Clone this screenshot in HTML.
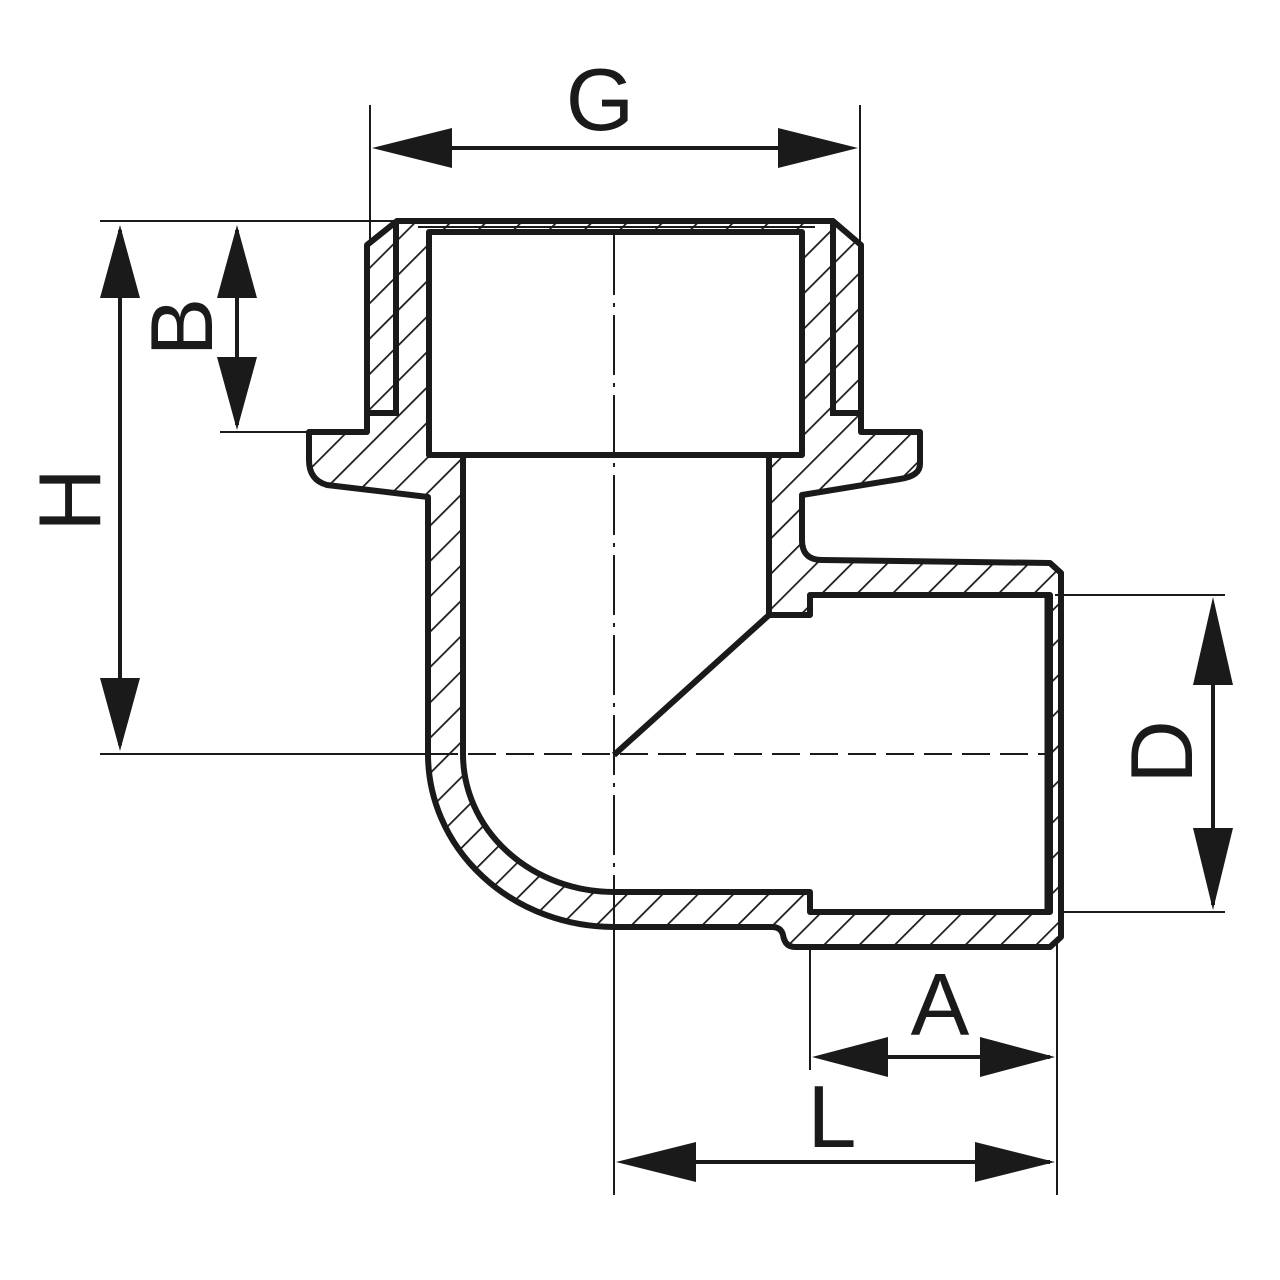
<!DOCTYPE html>
<html><head><meta charset="utf-8"><style>html,body{margin:0;padding:0;background:#fff}svg{display:block}</style></head>
<body>
<svg width="1280" height="1280" viewBox="0 0 1280 1280" xmlns="http://www.w3.org/2000/svg">
<defs>
<pattern id="h" patternUnits="userSpaceOnUse" width="25" height="25" patternTransform="rotate(45)">
<line x1="0" y1="0" x2="0" y2="25" stroke="#1a1a1a" stroke-width="3.5"/>
</pattern>
</defs>
<path fill="url(#h)" fill-rule="evenodd" stroke="#1a1a1a" stroke-width="6" stroke-linejoin="round" d="
M397,221 L833,221 L861,245 L861,432 L920,432 L920,464 Q920,476 900,479 L802,495 L802,540 Q802,560 822,560 L1050,563 L1061,573 L1061,937 L1050,947 L795,947 Q785,947 783,935 Q781,927 772,927 L614,927 A186,173 0 0 1 428,754 L428,497 L327,485 Q309,480 309,460 L309,432 L367,432 L367,245 Z
M429,232 L802,232 L802,455 L769,455 L769,615 L810,615 L810,595 L1050,595 L1050,912 L810,912 L810,892 L614,892 A151,138 0 0 1 463,754 L463,455 L429,455 Z"/>
<g stroke="#1a1a1a" fill="none" stroke-width="6">
<path d="M396,221 L396,413 L367,413"/>
<path d="M833,221 L833,413 L861,413"/>
<path d="M769,615 L614,755"/>
<path d="M769,455 L769,615"/>
<line x1="429" y1="455" x2="802" y2="455"/>
<line x1="1046" y1="596" x2="1046" y2="912" stroke-width="3"/>
<line x1="418" y1="227" x2="815" y2="227" stroke-width="2"/>
</g>
<g stroke="#1a1a1a" stroke-width="2" fill="none">
<line x1="100" y1="754" x2="430" y2="754"/>
<line x1="430" y1="754" x2="1050" y2="754" stroke-dasharray="28,10"/>
<line x1="614" y1="235" x2="614" y2="927" stroke-dasharray="60,8,4,8"/>
<line x1="614" y1="927" x2="614" y2="1195"/>
<line x1="370" y1="105" x2="370" y2="245"/>
<line x1="860" y1="105" x2="860" y2="245"/>
<line x1="100" y1="221" x2="397" y2="221"/>
<line x1="220" y1="432" x2="309" y2="432"/>
<line x1="1055" y1="595" x2="1225" y2="595"/>
<line x1="1062" y1="912" x2="1225" y2="912"/>
<line x1="810" y1="947" x2="810" y2="1070"/>
<line x1="1057" y1="940" x2="1057" y2="1195"/>
</g>
<g stroke="#1a1a1a" stroke-width="4">
<line x1="380" y1="148" x2="850" y2="148"/>
<line x1="120" y1="230" x2="120" y2="745"/>
<line x1="237" y1="230" x2="237" y2="425"/>
<line x1="1213" y1="605" x2="1213" y2="905"/>
<line x1="820" y1="1057" x2="1050" y2="1057"/>
<line x1="624" y1="1162" x2="1050" y2="1162"/>
</g>
<g fill="#1a1a1a">
<polygon points="372,148 452,128 452,168"/>
<polygon points="858,148 778,128 778,168"/>
<polygon points="120,225 100,298 140,298"/>
<polygon points="120,751 100,678 140,678"/>
<polygon points="237,225 217,298 257,298"/>
<polygon points="237,430 217,357 257,357"/>
<polygon points="1213,597 1193,685 1233,685"/>
<polygon points="1213,910 1193,828 1233,828"/>
<polygon points="812,1057 888,1037 888,1077"/>
<polygon points="1055,1057 980,1037 980,1077"/>
<polygon points="616,1162 696,1142 696,1182"/>
<polygon points="1055,1162 975,1142 975,1182"/>
</g>
<g font-family="Liberation Sans, sans-serif" font-size="88" fill="#1a1a1a" text-anchor="middle">
<text x="600" y="130">G</text>
<text x="940" y="1035">A</text>
<text x="832" y="1147">L</text>
<text transform="translate(100,500) rotate(-90)">H</text>
<text transform="translate(212,327) rotate(-90)">B</text>
<text transform="translate(1192,752) rotate(-90)">D</text>
</g>
</svg>
</body></html>
